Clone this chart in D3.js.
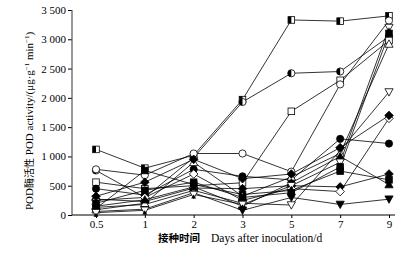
<!DOCTYPE html>
<html>
<head>
<meta charset="utf-8">
<script src="https://cdn.jsdelivr.net/npm/d3@7"></script>
<style>
  body { margin: 0; background: #fff; }
  text { font-family: "Liberation Serif", "DejaVu Serif", serif; }
</style>
</head>
<body>
<svg id="chart" width="413" height="260"></svg>
<script>
// sampling days (categorical on x)
const days = ["0.5", "1", "2", "3", "5", "7", "9"];
const yTicks = [0, 500, 1000, 1500, 2000, 2500, 3000, 3500];

// one array per treatment
const halfSquare   = [1120, 800, 1020, 1970, 3330, 3310, 3400];
const halfCircle   = [760, 300, 980, 1930, 2420, 2450, 3050];
const openSquare   = [560, 450, 500, 550, 1770, 2300, 2980];
const openCircle   = [780, 680, 1050, 1050, 740, 2230, 3320];
const fillCircle   = [450, 340, 780, 660, 600, 1300, 1220];
const fillSquare   = [110, 760, 520, 350, 420, 750, 600];
const fillDiamond  = [270, 230, 460, 450, 500, 480, 700];
const openDiamond  = [250, 300, 700, 250, 450, 400, 1650];
const fillTriDown  = [60, 100, 380, 80, 300, 180, 270];
const openTriDown  = [130, 180, 420, 200, 170, 1100, 2100];
const openTriUp    = [90, 200, 900, 320, 650, 1050, 2920];
const fillTriUp    = [150, 260, 480, 150, 550, 1000, 520];
const fillDiamond2 = [320, 560, 950, 620, 700, 1150, 1700];
const hourglass    = [40, 80, 350, 180, 500, 900, 3200];
const fillSquare2  = [200, 420, 560, 300, 380, 820, 3100];

const series = [
  { values: halfSquare, mark: "halfSquare" },
  { values: halfCircle, mark: "halfCircle" },
  { values: openSquare, mark: "openSquare" },
  { values: openCircle, mark: "openCircle" },
  { values: fillCircle, mark: "fillCircle" },
  { values: fillSquare, mark: "fillSquare" },
  { values: fillDiamond, mark: "fillDiamond" },
  { values: openDiamond, mark: "openDiamond" },
  { values: fillTriDown, mark: "fillTriDown" },
  { values: openTriDown, mark: "openTriDown" },
  { values: openTriUp, mark: "openTriUp" },
  { values: fillTriUp, mark: "fillTriUp" },
  { values: fillDiamond2, mark: "fillDiamond" },
  { values: hourglass, mark: "hourglass" },
  { values: fillSquare2, mark: "fillSquare" }
];

const svg = d3.select("#chart");
const mLeft = 72, mBottom = 215, mTop = 10, mRight = 395;

const x = d3.scalePoint().domain(days).range([96, 389]);
const y = d3.scaleLinear().domain([0, 3500]).range([mBottom, mTop]);

// axes
const yAxis = svg.append("g")
  .attr("transform", `translate(${mLeft},0)`)
  .call(d3.axisLeft(y).tickValues(yTicks).tickSize(4).tickPadding(2)
    .tickFormat(d => d3.format(",")(d).replace(",", " ")));
yAxis.select(".domain").remove();
yAxis.selectAll("text").style("font-size", "11px").attr("fill", "#000");
yAxis.selectAll("line").attr("stroke", "#000");

const xAxis = svg.append("g")
  .attr("transform", `translate(0,${mBottom})`)
  .call(d3.axisBottom(x).tickSize(3).tickPadding(2));
xAxis.select(".domain").remove();
xAxis.selectAll("text").style("font-size", "11px").attr("fill", "#000");
xAxis.selectAll("line").attr("stroke", "#000");

svg.append("line").attr("x1", mLeft).attr("x2", mLeft)
  .attr("y1", mBottom).attr("y2", mTop)
  .attr("stroke", "#555").attr("stroke-width", 1.2);
svg.append("line").attr("x1", mLeft).attr("x2", mRight)
  .attr("y1", mBottom).attr("y2", mBottom)
  .attr("stroke", "#000").attr("stroke-width", 1);

// lines
const line = d3.line().x((d, i) => x(days[i])).y(d => y(d));
svg.append("g").selectAll("path").data(series).join("path")
  .attr("d", d => line(d.values))
  .attr("fill", "none").attr("stroke", "#000").attr("stroke-width", 0.8);

// markers
const r = 3.3;
const drawMark = (g, type) => {
  const blk = "#000", wht = "#fff";
  if (type.endsWith("Square")) {
    g.append("rect").attr("x", -r).attr("y", -r).attr("width", 2 * r).attr("height", 2 * r)
      .attr("fill", type === "fillSquare" ? blk : wht).attr("stroke", blk).attr("stroke-width", 0.8);
    if (type === "halfSquare")
      g.append("rect").attr("x", -r).attr("y", -r).attr("width", r).attr("height", 2 * r).attr("fill", blk);
  } else if (type.endsWith("Circle")) {
    g.append("circle").attr("r", r + 0.3)
      .attr("fill", type === "fillCircle" ? blk : wht).attr("stroke", blk).attr("stroke-width", 0.8);
    if (type === "halfCircle")
      g.append("path").attr("d", d3.arc()({ innerRadius: 0, outerRadius: r + 0.3, startAngle: Math.PI, endAngle: 2 * Math.PI }))
        .attr("fill", blk);
  } else if (type.endsWith("Diamond")) {
    const d = r + 1;
    g.append("path").attr("d", `M0,${-d}L${d},0L0,${d}L${-d},0Z`)
      .attr("fill", type === "fillDiamond" ? blk : wht).attr("stroke", blk).attr("stroke-width", 0.8);
  } else if (type.endsWith("TriDown") || type === "hourglass") {
    const d = r + 0.8;
    g.append("path").attr("d", `M${-d},${-d * 0.8}L${d},${-d * 0.8}L0,${d}Z`)
      .attr("fill", type === "fillTriDown" ? blk : wht).attr("stroke", blk).attr("stroke-width", 0.8);
    if (type === "hourglass")
      g.append("path").attr("d", `M${-d * 0.6},${d}L${d * 0.6},${d}L0,0Z`).attr("fill", blk);
  } else if (type.endsWith("TriUp")) {
    const d = r + 0.8;
    g.append("path").attr("d", `M${-d},${d * 0.8}L${d},${d * 0.8}L0,${-d}Z`)
      .attr("fill", type === "fillTriUp" ? blk : wht).attr("stroke", blk).attr("stroke-width", 0.8);
  }
};

series.forEach(s => {
  s.values.forEach((v, i) => {
    const g = svg.append("g").attr("transform", `translate(${x(days[i])},${y(v)})`);
    drawMark(g, s.mark);
  });
});

// axis titles
svg.append("text")
  .attr("transform", "translate(33,210) rotate(-90)")
  .attr("text-anchor", "start")
  .style("font-size", "11px")
  .html('POD<tspan style="font-family:\'Noto Sans CJK SC\'; font-size:10px">酶活性</tspan> POD activity/(μg·g<tspan dy="-4" font-size="7">−1</tspan><tspan dy="4"> min</tspan><tspan dy="-4" font-size="7">−1</tspan><tspan dy="4">)</tspan>');

svg.append("text")
  .attr("x", 200).attr("y", 242)
  .attr("text-anchor", "end")
  .style("font-family", "'Noto Sans CJK SC'")
  .style("font-weight", "bold")
  .style("font-size", "10.5px")
  .text("接种时间");

svg.append("text")
  .attr("x", 211).attr("y", 242)
  .style("font-size", "11.5px")
  .text("Days after inoculation/d");
</script>
</body>
</html>
